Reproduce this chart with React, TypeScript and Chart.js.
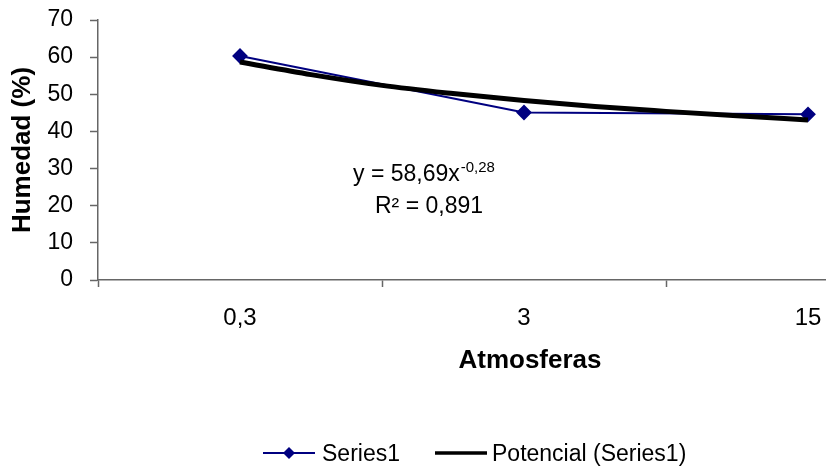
import React, { useEffect, useRef } from "react";
import { Chart, registerables } from "chart.js";

Chart.register(...registerables);

const categories = ["0,3", "3", "15"];
const categoryPositions = [1, 2, 3];
const series1Values = [60.3, 45.1, 44.6];
const trendPositions = [1, 1.25, 1.5, 1.75, 2, 2.25, 2.5, 2.75, 3];
const trendValues = [58.7, 55.3, 52.4, 50.2, 48.3, 46.7, 45.4, 44.2, 43.1];
const yTicks = [0, 10, 20, 30, 40, 50, 60, 70];
const xTickPositions = [0.5, 1, 1.5, 2, 2.5, 3];

const FONT = "'Liberation Sans', Arial, Helvetica, sans-serif";
const NAVY = "#000080";
const AXIS = "#666666";

const overlayPlugin = {
  id: "overlay",
  afterDraw(chart: any) {
    const ctx = chart.ctx;
    ctx.save();
    ctx.fillStyle = "#000";
    // x-axis title
    ctx.font = `bold 26px ${FONT}`;
    ctx.textAlign = "center";
    ctx.textBaseline = "alphabetic";
    ctx.fillText("Atmosferas", 530, 368);

    // equation
    ctx.textAlign = "left";
    ctx.font = `23px ${FONT}`;
    const main = "y = 58,69x";
    ctx.fillText(main, 353, 181);
    const w = ctx.measureText(main).width;
    ctx.font = `15px ${FONT}`;
    ctx.fillText("-0,28", 353 + w + 1, 172);
    ctx.font = `23px ${FONT}`;
    ctx.fillText("R² = 0,891", 375, 213);

    // legend
    const ly = 453;
    ctx.strokeStyle = NAVY;
    ctx.lineWidth = 2;
    ctx.beginPath();
    ctx.moveTo(263, ly);
    ctx.lineTo(315, ly);
    ctx.stroke();
    ctx.fillStyle = NAVY;
    ctx.beginPath();
    ctx.moveTo(289, ly - 6);
    ctx.lineTo(295, ly);
    ctx.lineTo(289, ly + 6);
    ctx.lineTo(283, ly);
    ctx.closePath();
    ctx.fill();
    ctx.fillStyle = "#000";
    ctx.font = `23px ${FONT}`;
    ctx.fillText("Series1", 322, 461);
    ctx.strokeStyle = "#000";
    ctx.lineWidth = 3.5;
    ctx.beginPath();
    ctx.moveTo(435, ly);
    ctx.lineTo(487, ly);
    ctx.stroke();
    ctx.fillText("Potencial (Series1)", 492, 461);
    ctx.restore();
  },
};

export default function App() {
  const ref = useRef<HTMLCanvasElement | null>(null);

  useEffect(() => {
    document.body.style.margin = "0";
    const canvas = ref.current;
    if (!canvas) return;
    const chart = new Chart(canvas, {
      type: "line",
      data: {
        datasets: [
          {
            label: "Potencial (Series1)",
            data: trendPositions.map((x, i) => ({ x, y: trendValues[i] })),
            borderColor: "#000",
            borderWidth: 5,
            pointRadius: 0,
            cubicInterpolationMode: "monotone",
            fill: false,
            order: 0,
          },
          {
            label: "Series1",
            data: categoryPositions.map((x, i) => ({ x, y: series1Values[i] })),
            borderColor: NAVY,
            backgroundColor: NAVY,
            borderWidth: 2,
            pointStyle: "rectRot",
            pointRadius: 6.5,
            pointBackgroundColor: NAVY,
            pointBorderColor: NAVY,
            tension: 0,
            fill: false,
            order: 1,
          },
        ],
      },
      plugins: [overlayPlugin],
      options: {
        animation: false,
        responsive: false,
        layout: { autoPadding: false, padding: { top: 20, left: 0, right: 0, bottom: 0 } },
        plugins: {
          legend: { display: false },
          tooltip: { enabled: false },
        },
        scales: {
          x: {
            type: "linear",
            min: 0.5,
            max: 0.5 + 728 / 284,
            afterBuildTicks: (s: any) => {
              s.ticks = xTickPositions.map((v) => ({ value: v }));
            },
            afterFit: (s: any) => {
              s.height = 191;
              s.paddingLeft = 0;
              s.paddingRight = 0;
            },
            grid: {
              drawOnChartArea: false,
              tickLength: 7,
              tickColor: (c: any) =>
                c.tick && Number.isInteger(c.tick.value) ? "rgba(0,0,0,0)" : AXIS,
              tickWidth: 1.5,
            },
            border: { color: AXIS, width: 1.5 },
            ticks: {
              autoSkip: false,
              maxRotation: 0,
              padding: 17,
              color: "#000",
              font: { family: FONT, size: 24 },
              callback: (v: any) => {
                const idx = categoryPositions.indexOf(Number(v));
                return idx >= 0 ? categories[idx] : "";
              },
            },
          },
          y: {
            min: 0,
            max: 70,
            afterBuildTicks: (s: any) => {
              s.ticks = yTicks.map((v) => ({ value: v }));
            },
            afterFit: (s: any) => {
              s.width = 98;
              s.paddingTop = 0;
              s.paddingBottom = 0;
            },
            grid: {
              drawOnChartArea: false,
              tickLength: 8,
              tickColor: AXIS,
              tickWidth: 1.5,
            },
            border: { color: AXIS, width: 1.5 },
            ticks: {
              padding: 17,
              color: "#000",
              font: { family: FONT, size: 23 },
            },
            title: {
              display: true,
              text: "Humedad (%)",
              color: "#000",
              font: { family: FONT, size: 26, weight: "bold" },
              padding: { top: 7, bottom: 0 },
            },
          },
        },
      },
    });
    return () => chart.destroy();
  }, []);

  return (
    <div style={{ width: 826, height: 471, position: "relative", overflow: "hidden", background: "#fff" }}>
      <canvas ref={ref} width={826} height={471} style={{ width: 826, height: 471, display: "block" }} />
    </div>
  );
}
